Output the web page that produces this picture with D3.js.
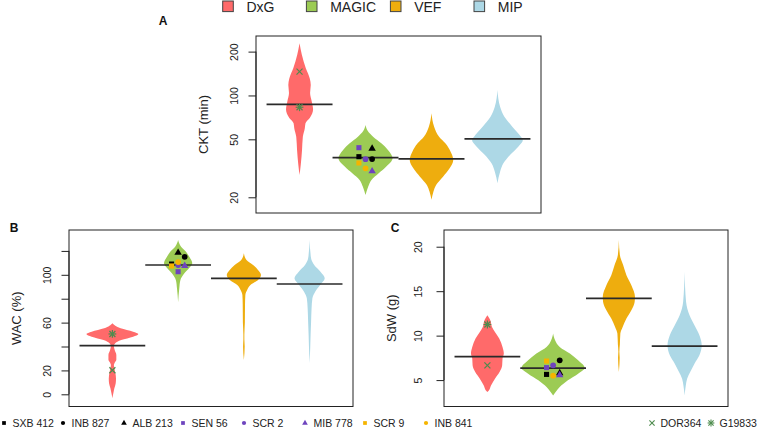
<!DOCTYPE html>
<html><head><meta charset="utf-8">
<script src="https://cdn.jsdelivr.net/npm/d3@7"></script>
<style>body{margin:0;background:#fff} svg{display:block;font-family:"Liberation Sans",Arial,sans-serif}</style>
</head><body><svg id="c" width="760" height="434"></svg>
<script>
// ---------------- DATA ----------------
const groups = ["DxG", "MAGIC", "VEF", "MIP"];
const groupColors = ["#FF6A6A", "#9CCB54", "#EEAD0E", "#ADD8E6"];

// violin profiles: [value, relative density (half-width)]
const ckt_DxG   = [[228,0],[190,0.07],[154,0.19],[131,0.31],[118,0.34],[104,0.32],[91,0.37],[80,0.41],[70,0.31],[64.5,0.18],[59.6,0.16],[52,0.10],[42,0.075],[34,0.04],[28.4,0]];
const ckt_MAGIC = [[62.8,0],[57,0.07],[52.1,0.23],[47,0.48],[42.3,0.68],[37.1,0.82],[32.5,0.63],[29.2,0.40],[26.3,0.18],[23.6,0.08],[20.7,0]];
const ckt_VEF   = [[75.5,0],[61.1,0.08],[52.1,0.23],[47,0.42],[41.1,0.58],[36.1,0.66],[31.6,0.55],[27.7,0.35],[24.3,0.14],[21.9,0.06],[19.2,0]];
const ckt_MIP   = [[109,0],[83.8,0.08],[71.5,0.21],[61.1,0.45],[52.1,0.71],[49.5,0.77],[44.5,0.63],[39,0.38],[34.2,0.18],[30,0.08],[25,0]];

const wac_DxG   = [[59.4,0],[55.2,0.25],[52.4,0.63],[50.5,0.79],[48.2,0.63],[45.4,0.27],[42.5,0.08],[40.5,0.045],[37,0.07],[33,0.12],[29,0.12],[26.5,0.07],[24.5,0.045],[22,0.06],[18,0.09],[13,0.11],[9,0.10],[5,0.06],[1,0.03],[-3.3,0]];
const wac_MAGIC = [[129.1,0],[123.5,0.09],[119.3,0.24],[115.1,0.34],[109.6,0.43],[105.4,0.33],[101.3,0.19],[95.6,0.07],[88.7,0.035],[77,0]];
const wac_VEF   = [[118,0],[112.4,0.08],[108.2,0.28],[104,0.43],[99.8,0.52],[95.6,0.43],[91.5,0.20],[87.3,0.10],[83.1,0.045],[75,0.035],[60,0.03],[50,0.015],[46,0.015],[40,0.025],[28.7,0]];
const wac_MIP   = [[129.1,0],[113.8,0.045],[108.2,0.14],[102.6,0.33],[97.1,0.46],[91.5,0.32],[85.9,0.17],[80.3,0.085],[72,0.06],[60.8,0.045],[49.6,0.03],[40,0.02],[25.9,0]];

const sdw_DxG   = [[12.29,0],[11.73,0.09],[10.98,0.14],[10.41,0.23],[9.67,0.36],[8.72,0.46],[7.98,0.50],[7.41,0.46],[6.66,0.45],[5.90,0.37],[5.16,0.23],[4.40,0.11],[3.84,0.045],[3.65,0]];
const sdw_MAGIC = [[10.23,0],[9.48,0.06],[8.72,0.20],[7.98,0.51],[7.22,0.76],[6.35,0.96],[5.72,0.76],[4.97,0.45],[4.21,0.20],[3.65,0.076],[3.28,0]];
const sdw_VEF   = [[20.75,0],[19.06,0.03],[17.93,0.13],[16.8,0.23],[15.67,0.38],[14.36,0.49],[13.79,0.48],[12.86,0.38],[11.92,0.23],[10.98,0.115],[10.23,0.045],[9,0.03],[8.2,0.015],[7.5,0.025],[5.9,0]];
const sdw_MIP   = [[17.18,0],[13.79,0.045],[12.29,0.15],[11.17,0.30],[10.04,0.45],[8.91,0.52],[7.78,0.45],[6.85,0.30],[5.90,0.17],[5.16,0.076],[4.40,0.036],[3.28,0]];

const ckt_means = [86.8, 37.4, 36.7, 50.3];
const wac_means = [40.7, 108.2, 97.1, 92.3];
const sdw_means = [7.64, 6.35, 14.18, 8.83];

const accessions = ["SXB 412","INB 827","ALB 213","SEN 56","SCR 2","MIB 778","SCR 9","INB 841"];
const accShapes  = ["square","circle","triangle","square","circle","triangle","square","circle"];
const accColors  = ["#000000","#000000","#000000","#6E44BE","#6E44BE","#6E44BE","#F5B400","#F5B400"];
const ckt_acc = [38.0, 36.6, 43.2, 43.8, 36.5, 30.2, 34.4, 31.6];
const ckt_jit = [-0.1, 0.1, 0.1, -0.1, 0, 0.1, -0.1, 0];
const wac_acc = [109.0, 115.1, 118.5, 102.6, 108.2, 107.6, 107.4, 110.7];
const wac_jit = [-0.1, 0.1, 0, 0, 0, 0.1, -0.1, 0];
const sdw_acc = [5.64, 7.22, 5.79, 6.40, 6.66, 5.56, 7.14, 5.50];
const sdw_jit = [-0.1, 0.1, 0.1, -0.1, 0, 0.1, -0.1, 0];

const parents = ["DOR364", "G19833"];
const parentShapes = ["x", "asterisk"];
const ckt_par = [145.8, 83.0];
const wac_par = [20.1, 50.5];
const sdw_par = [6.66, 11.25];

const ckt_ticks = [20, 50, 100, 200];
const wac_ticks = [0, 20, 40, 60, 80, 100, 120];
const wac_labels = ["0", "20", "", "60", "", "100", ""];
const sdw_ticks = [5, 10, 15, 20];

// ---------------- DRAW ----------------
const svg = d3.select("#c");
const parentColor = "#4E8C4E";
const symType = {square: d3.symbolSquare, circle: d3.symbolCircle, triangle: d3.symbolTriangle};

const panels = [
  {letter:"A", lx:163, ly:25, title:"CKT (min)", box:[256,36,541,213], log:true, domain:[15.6,256],
   ticks:ckt_ticks, labels:ckt_ticks.map(String), labDist:21.5,
   violins:[ckt_DxG,ckt_MAGIC,ckt_VEF,ckt_MIP], means:ckt_means, acc:ckt_acc, jit:ckt_jit, par:ckt_par},
  {letter:"B", lx:14, ly:232, title:"WAC (%)", box:[69,230,353,406.5], log:false, domain:[-10.2,137.5],
   ticks:wac_ticks, labels:wac_labels, labDist:21.5,
   violins:[wac_DxG,wac_MAGIC,wac_VEF,wac_MIP], means:wac_means, acc:wac_acc, jit:wac_jit, par:wac_par},
  {letter:"C", lx:395, ly:232, title:"SdW (g)", box:[444,230,728,406.5], log:false, domain:[2.03,21.88],
   ticks:sdw_ticks, labels:sdw_ticks.map(String), labDist:26,
   violins:[sdw_DxG,sdw_MAGIC,sdw_VEF,sdw_MIP], means:sdw_means, acc:sdw_acc, jit:sdw_jit, par:sdw_par}
];

function drawParent(g, shape, x, y, r, col, sw) {
  const s = g.append("g").attr("transform", `translate(${x},${y})`)
    .attr("stroke", col).attr("stroke-width", sw).attr("fill", "none");
  s.append("line").attr("x1",-r).attr("y1",-r).attr("x2",r).attr("y2",r);
  s.append("line").attr("x1",-r).attr("y1",r).attr("x2",r).attr("y2",-r);
  if (shape === "asterisk") {
    const q = r * 1.3;
    s.append("line").attr("x1",-q).attr("y1",0).attr("x2",q).attr("y2",0);
    s.append("line").attr("x1",0).attr("y1",-q).attr("x2",0).attr("y2",q);
  }
}

panels.forEach(p => {
  const [x0, y0, x1, y1] = p.box;
  const x = d3.scaleLinear().domain([0.34, 4.66]).range([x0, x1]);
  const y = (p.log ? d3.scaleLog() : d3.scaleLinear()).domain(p.domain).range([y1, y0]);
  const w = d3.scaleLinear().domain([0, 1]).range([0, x(1.5) - x(1)]);
  const g = svg.append("g");

  p.violins.forEach((prof, i) => {
    const cx = x(i + 1);
    const area = d3.area()
      .y(d => y(d[0]))
      .x0(d => cx - w(d[1]))
      .x1(d => cx + w(d[1]))
      .curve(d3.curveMonotoneY);
    g.append("path").attr("d", area(prof)).attr("fill", groupColors[i]);
  });

  p.means.forEach((m, i) => {
    g.append("line")
      .attr("x1", x(i + 0.5)).attr("x2", x(i + 1.5))
      .attr("y1", y(m)).attr("y2", y(m))
      .attr("stroke", "#2a2a2a").attr("stroke-width", 1.7);
  });

  p.par.forEach((v, k) => drawParent(g, parentShapes[k], x(1), y(v), 3, parentColor, 1.2));

  p.acc.forEach((v, k) => {
    g.append("path")
      .attr("d", d3.symbol().type(symType[accShapes[k]]).size(accShapes[k] === "triangle" ? 24 : 26)())
      .attr("transform", `translate(${x(2 + p.jit[k])},${y(v)})`)
      .attr("fill", accColors[k]);
  });

  g.append("rect").attr("x", x0).attr("y", y0).attr("width", x1 - x0).attr("height", y1 - y0)
    .attr("fill", "none").attr("stroke", "#222").attr("stroke-width", 1);

  const ax = g.append("g").attr("transform", `translate(${x0},0)`)
    .call(d3.axisLeft(y).tickValues(p.ticks).tickSize(7.5).tickFormat((d, i) => p.labels[i]));
  ax.select(".domain").attr("stroke", "#222")
    .attr("d", `M0,${y(p.ticks[0])}V${y(p.ticks[p.ticks.length - 1])}`);
  ax.selectAll(".tick line").attr("stroke", "#222");
  ax.selectAll(".tick text")
    .attr("transform", "rotate(-90)")
    .attr("x", 0).attr("y", -p.labDist).attr("dy", "0.36em")
    .attr("text-anchor", "middle")
    .attr("font-size", 10.5).attr("fill", "#222")
    .attr("font-family", '"Liberation Sans",Arial,sans-serif');

  g.append("text")
    .attr("transform", `translate(${x0 - 53},${(y0 + y1) / 2}) rotate(-90)`)
    .attr("text-anchor", "middle").attr("dy", "0.35em")
    .attr("font-size", 13).attr("fill", "#222").text(p.title);

  g.append("text").attr("x", p.lx).attr("y", p.ly).attr("text-anchor", "middle")
    .attr("font-weight", "bold").attr("font-size", 12).attr("fill", "#111").text(p.letter);
});

// top legend
const topLeg = svg.append("g");
const legX = [228, 311.7, 395.7, 479.3];
groups.forEach((gname, i) => {
  topLeg.append("rect").attr("x", legX[i] - 5.3).attr("y", 1).attr("width", 10.6).attr("height", 10.6)
    .attr("fill", groupColors[i]).attr("stroke", "#444").attr("stroke-width", 1);
  topLeg.append("text").attr("x", legX[i] + 18.5).attr("y", 6.5).attr("dy", "0.36em")
    .attr("font-size", 14).attr("fill", "#222").text(gname);
});

// bottom legend
const botLeg = svg.append("g");
const ly = 423;
const accLegX = [4, 63, 124, 183, 244, 305, 365, 426];
accessions.forEach((a, k) => {
  botLeg.append("path")
    .attr("d", d3.symbol().type(symType[accShapes[k]]).size(14)())
    .attr("transform", `translate(${accLegX[k]},${ly})`).attr("fill", accColors[k]);
  botLeg.append("text").attr("x", accLegX[k] + 8.5).attr("y", ly).attr("dy", "0.36em")
    .attr("font-size", 10.5).attr("fill", "#222").text(a);
});
const parLegX = [652, 711];
parents.forEach((pn, k) => {
  drawParent(botLeg, parentShapes[k], parLegX[k], ly, 2.6, parentColor, 1.1);
  botLeg.append("text").attr("x", parLegX[k] + 8.5).attr("y", ly).attr("dy", "0.36em")
    .attr("font-size", 10.5).attr("fill", "#222").text(pn);
});
</script></body></html>
